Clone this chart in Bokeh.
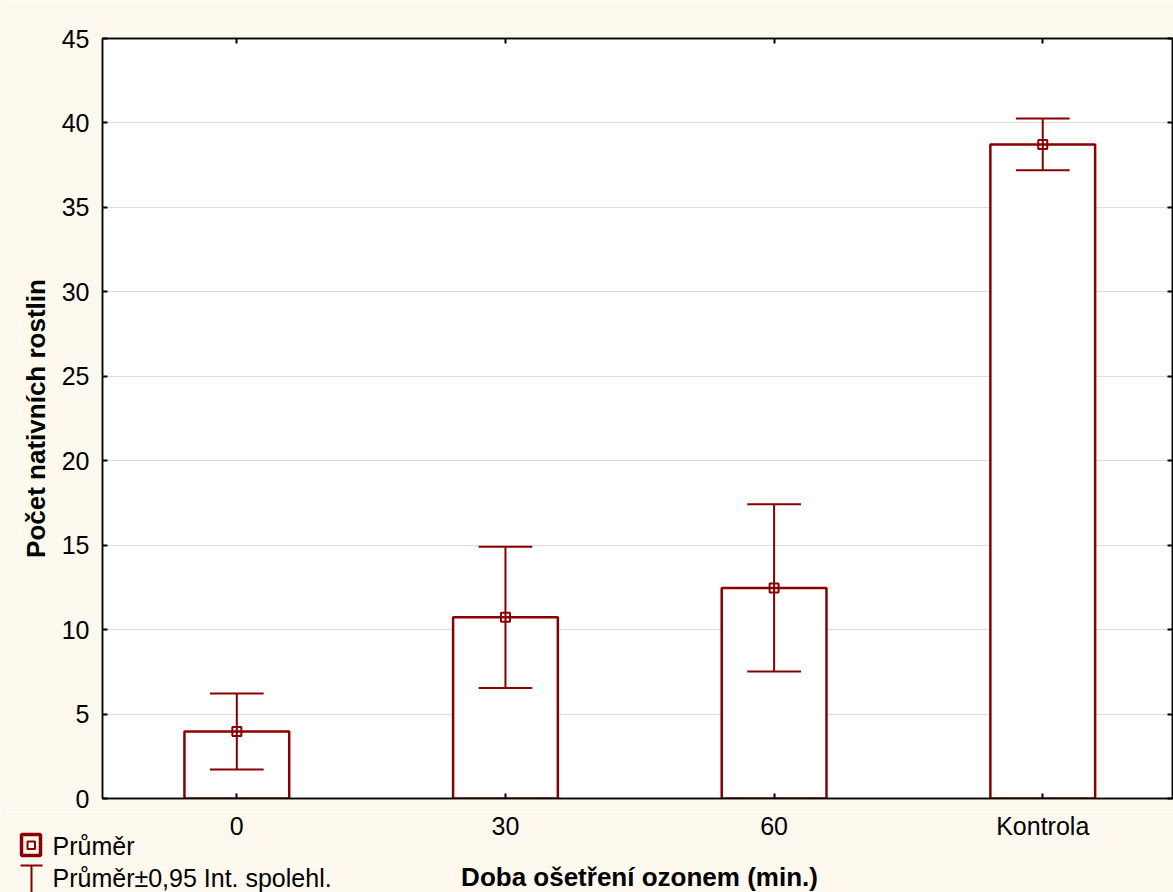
import numpy as np
from bokeh.plotting import figure
from bokeh.layouts import column
from bokeh.models import Range1d, FixedTicker, LinearAxis, ColumnDataSource
from bokeh.core.properties import value
from bokeh.embed import file_html
from bokeh.resources import INLINE

# ---- data ----
categories = ["0", "30", "60", "Kontrola"]
means = [3.97, 10.73, 12.47, 38.73]
ci95 = [2.25, 4.18, 4.95, 1.53]
y_ticks = [0, 5, 10, 15, 20, 25, 30, 35, 40, 45]

legend_mean = "Průměr"
legend_ci = "Průměr±0,95 Int. spolehl."
x_title = "Doba ošetření ozonem (min.)"
y_title = "Počet nativních rostlin"

# ---- styling / layout ----
RED = "#880000"
FONT = "Liberation Sans"
BG = "#fdf9ef"
W, H = 1173, 892
SPLIT = 812                                   # main figure height; strip below holds x labels + legend
LEFT, TOP, BOTTOM, RIGHT = 102, 38, 798, 1172  # frame edges in px
X_END = 3.983
Y_END = 45

xpos = np.arange(len(categories)) + 0.5
m = np.array(means)
c = np.array(ci95)
src = ColumnDataSource(dict(x=xpos, mean=m, lower=m - c, upper=m + c,
                            cap_l=xpos - 0.1, cap_r=xpos + 0.1))

p = figure(width=W, height=SPLIT, x_range=Range1d(0, X_END), y_range=Range1d(0, Y_END),
           output_backend="svg", toolbar_location=None,
           min_border_left=LEFT, min_border_right=W - RIGHT, min_border_top=TOP,
           min_border_bottom=SPLIT - BOTTOM,
           background_fill_color="white", border_fill_color=BG,
           outline_line_color="black", outline_line_width=1.5)
p.frame_align = False

# bars
p.vbar(x="x", top="mean", width=0.39, bottom=0, source=src,
       fill_color="white", line_color=RED, line_width=2.5)
# error bars
p.segment(x0="x", y0="lower", x1="x", y1="upper", source=src, line_color=RED, line_width=2)
p.segment(x0="cap_l", y0="upper", x1="cap_r", y1="upper", source=src, line_color=RED, line_width=2)
p.segment(x0="cap_l", y0="lower", x1="cap_r", y1="lower", source=src, line_color=RED, line_width=2)
# means
p.scatter(x="x", y="mean", source=src, marker="square", size=9,
          fill_alpha=0, line_color=RED, line_width=2)

# axes
xt = FixedTicker(ticks=list(xpos))
yt = FixedTicker(ticks=y_ticks)
xa = p.xaxis[0]
xa.ticker = xt
ya = p.yaxis[0]
ya.ticker = yt

for ax in (xa, ya):
    ax.major_tick_in = 5
    ax.major_tick_out = 0
    ax.minor_tick_line_color = None
    ax.axis_line_width = 1.5
    ax.major_tick_line_width = 2

# category labels are drawn in the strip below (so they share it with the legend)
xa.major_label_text_font_size = "1px"
xa.major_label_text_alpha = 0
xa.major_label_standoff = 0

ya.major_label_text_font = FONT
ya.major_label_text_font_size = "25px"
ya.major_label_text_color = "black"
ya.major_label_standoff = 13
ya.axis_label = y_title
ya.axis_label_text_font = FONT
ya.axis_label_text_font_size = "26px"
ya.axis_label_text_font_style = "bold"
ya.axis_label_text_color = "black"
ya.axis_label_standoff = 8

top_ax = LinearAxis(ticker=xt, major_label_text_font_size="1px", major_label_text_alpha=0,
                    major_label_standoff=0,
                    major_tick_in=5, major_tick_out=0, minor_tick_line_color=None,
                    axis_line_width=1.5, major_tick_line_width=2)
p.add_layout(top_ax, "above")
right_ax = LinearAxis(ticker=yt, major_label_text_font_size="1px",
                      major_label_text_alpha=0, major_label_standoff=0,
                      major_tick_in=5, major_tick_out=0,
                      minor_tick_line_color=None, axis_line_width=1.5, major_tick_line_width=2)
p.add_layout(right_ax, "right")

p.xgrid.visible = False
p.ygrid.ticker = yt
p.ygrid.grid_line_color = "#dedede"
p.ygrid.grid_line_width = 1

# ---- bottom strip: category labels, x title, legend ----
def dx(px):
    """page x pixel -> category-axis units of the main plot"""
    return (px - LEFT) * X_END / (RIGHT - LEFT)

q = figure(width=W, height=H - SPLIT, x_range=Range1d(dx(0), dx(W)),
           y_range=Range1d(H, SPLIT),  # y in page pixels, downward
           output_backend="svg", toolbar_location=None,
           x_axis_type=None, y_axis_type=None,
           min_border=0, min_border_left=0, min_border_right=0,
           min_border_top=0, min_border_bottom=0,
           background_fill_color=BG, border_fill_color=BG, outline_line_color=None)
q.frame_align = False
q.xgrid.visible = False
q.ygrid.visible = False

# category labels under the ticks
q.text(x=list(xpos), y=[825] * len(categories), text=categories,
       text_font=value(FONT), text_font_size="25px", text_color="black",
       text_align="center", text_baseline="middle")
# axis title
q.text(x=[dx((LEFT + RIGHT) / 2 + 2)], y=[876], text=[x_title],
       text_font=value(FONT), text_font_size="26px", text_font_style="bold",
       text_color="black", text_align="center", text_baseline="middle")
# legend glyph 1: mean marker (framed square)
q.quad(left=[dx(21)], right=[dx(40)], top=[834], bottom=[855],
       fill_alpha=0, line_color=RED, line_width=3.5)
q.quad(left=[dx(27)], right=[dx(34.5)], top=[841], bottom=[848.5],
       fill_alpha=0, line_color=RED, line_width=2)
# legend glyph 2: confidence interval (I-beam)
q.segment(x0=[dx(31)], y0=[865], x1=[dx(31)], y1=[905], line_color=RED, line_width=2)
q.segment(x0=[dx(20)], y0=[865], x1=[dx(42)], y1=[865], line_color=RED, line_width=2)
# legend labels
q.text(x=[dx(52), dx(52)], y=[845, 877], text=[legend_mean, legend_ci],
       text_font=value(FONT), text_font_size="25px", text_color="black",
       text_align="left", text_baseline="middle")

layout = column(p, q, spacing=0)
open("out.html", "w").write(file_html(layout, INLINE))
